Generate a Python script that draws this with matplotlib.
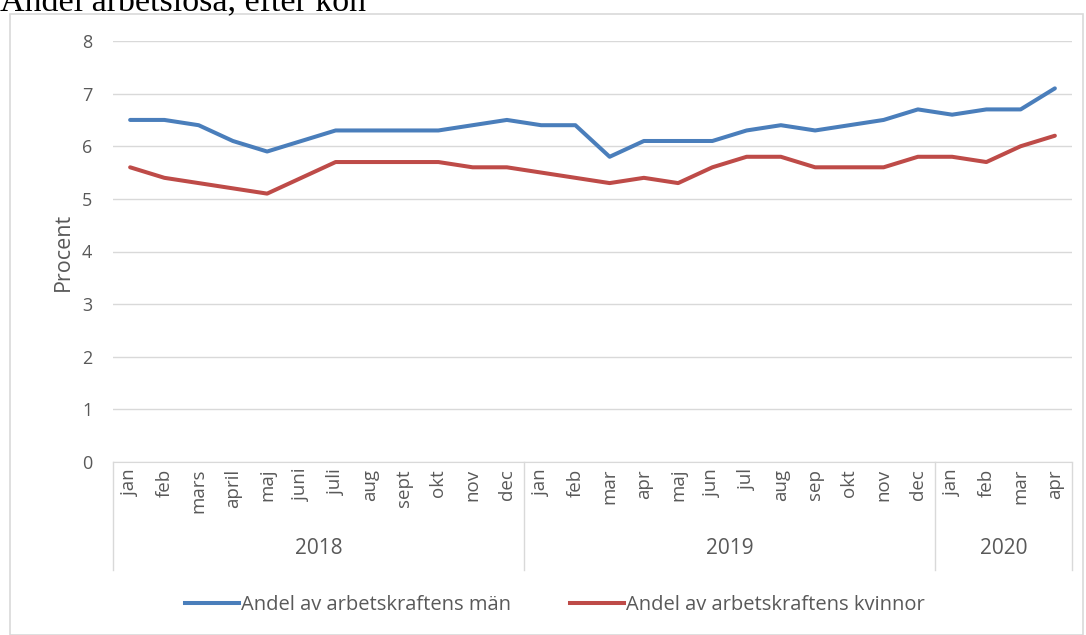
import matplotlib.pyplot as plt
from matplotlib.lines import Line2D
from matplotlib.patches import Rectangle
import matplotlib.transforms as mtransforms

# data
months = ['jan', 'feb', 'mars', 'april', 'maj', 'juni', 'juli', 'aug', 'sept', 'okt', 'nov', 'dec',
          'jan', 'feb', 'mar', 'apr', 'maj', 'jun', 'jul', 'aug', 'sep', 'okt', 'nov', 'dec',
          'jan', 'feb', 'mar', 'apr']
years = ['2018', '2019', '2020']
months_per_year = [12, 12, 4]
men = [6.5, 6.5, 6.4, 6.1, 5.9, 6.1, 6.3, 6.3, 6.3, 6.3, 6.4, 6.5,
       6.4, 6.4, 5.8, 6.1, 6.1, 6.1, 6.3, 6.4, 6.3, 6.4, 6.5, 6.7,
       6.6, 6.7, 6.7, 7.1]
women = [5.6, 5.4, 5.3, 5.2, 5.1, 5.4, 5.7, 5.7, 5.7, 5.7, 5.6, 5.6,
         5.5, 5.4, 5.3, 5.4, 5.3, 5.6, 5.8, 5.8, 5.6, 5.6, 5.6, 5.8,
         5.8, 5.7, 6.0, 6.2]

font = ['Open Sans', 'DejaVu Sans']
grey = '#595959'
blue = '#4A7EBB'
red = '#BE4B48'

W, H = 1086, 635
fig = plt.figure(figsize=(W / 100, H / 100), dpi=100)

# outer chart frame
fig.patches.append(Rectangle((10 / W, 0), (1083 - 10) / W, 1 - 14 / H, transform=fig.transFigure,
                             fill=False, edgecolor='#D9D9D9', linewidth=1.2))

# title (cut off at the top, as in the source)
fig.text(0.0, 1 - 10 / H, 'Andel arbetslösa, efter kön', family='Liberation Serif',
         fontsize=24.5, va='baseline', ha='left', color='black')

left, right, top, bottom = 113, 1072, 41, 462
ax = fig.add_axes([left / W, 1 - bottom / H, (right - left) / W, (bottom - top) / H])

x = list(range(len(months)))
ax.plot(x, men, color=blue, linewidth=2.9, solid_capstyle='round', solid_joinstyle='round')
ax.plot(x, women, color=red, linewidth=2.9, solid_capstyle='round', solid_joinstyle='round')

ax.set_xlim(-0.5, len(months) - 0.5)
ax.set_ylim(0, 8)
ax.set_yticks(range(0, 9))
ax.set_yticklabels([str(i) for i in range(0, 9)], family=font, fontsize=13, color=grey)
ax.grid(axis='y', color='#D9D9D9', linewidth=1)
ax.set_axisbelow(True)
for s in ['top', 'right', 'left']:
    ax.spines[s].set_visible(False)
ax.spines['bottom'].set_color('#D9D9D9')
ax.tick_params(axis='both', length=0)
ax.tick_params(axis='y', pad=15)

ax.set_xticks(x)
ax.set_xticklabels(months, rotation=90, family=font, fontsize=13.5, color=grey, va='top')
ax.tick_params(axis='x', pad=5)

ax.set_ylabel('Procent', family=font, fontsize=15.5, color=grey, labelpad=6)

# year group labels and separators below the axis
trans = mtransforms.blended_transform_factory(ax.transData, ax.transAxes)
sep_bottom = -(570 - bottom) / (bottom - top)
year_y = -(548 - bottom) / (bottom - top)
start = -0.5
ax.plot([start, start], [0, sep_bottom], transform=trans, color='#D9D9D9', linewidth=1, clip_on=False)
for yr, n in zip(years, months_per_year):
    end = start + n
    ax.plot([end, end], [0, sep_bottom], transform=trans, color='#D9D9D9', linewidth=1, clip_on=False)
    ax.text((start + end) / 2, year_y, yr, transform=trans, ha='center', va='center',
            family=font, fontsize=15, color=grey)
    start = end

handles = [Line2D([], [], color=blue, linewidth=2.9),
           Line2D([], [], color=red, linewidth=2.9)]
fig.legend(handles, ['Andel av arbetskraftens män', 'Andel av arbetskraftens kvinnor'],
           loc='center', bbox_to_anchor=(555 / W, 1 - 605 / H), ncol=2, frameon=False,
           prop={'family': font, 'size': 14.5}, labelcolor=grey,
           handlelength=2.7, handletextpad=0.1, columnspacing=2.9)

fig.savefig('out.png', dpi=100)
